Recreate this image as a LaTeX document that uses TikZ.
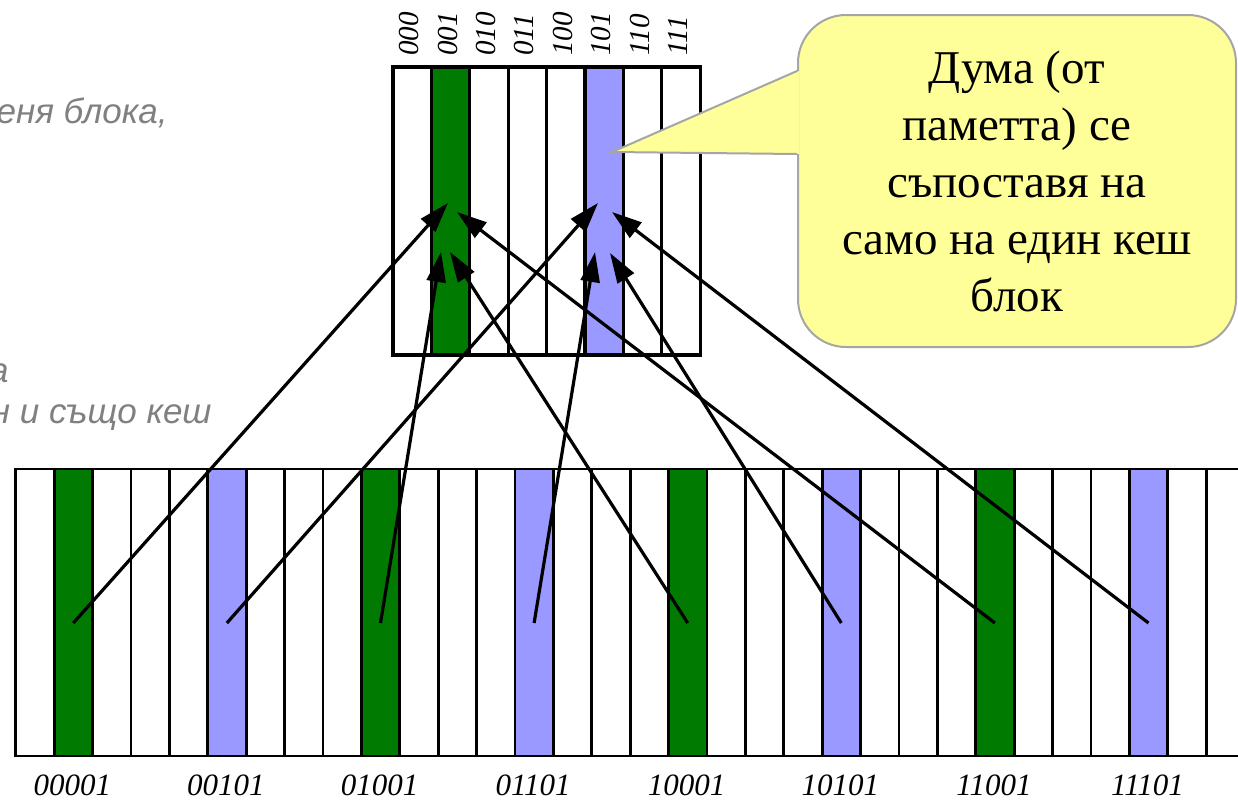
\documentclass[tikz,border=0pt]{standalone}
\usepackage{fontspec}
\setmainfont{Liberation Serif}
\newfontfamily\notefont{Liberation Serif}
\newfontfamily\slidefont{Liberation Sans}
\usepackage{graphicx}
\usepackage{tikz}
\usetikzlibrary{arrows.meta}
\usetikzlibrary{calc}

\definecolor{blkgreen}{RGB}{0,122,0}
\definecolor{blkblue}{RGB}{153,153,255}
\definecolor{notefill}{RGB}{255,255,153}
\definecolor{noteline}{RGB}{165,165,165}
\definecolor{oldtext}{RGB}{128,128,128}

\newcommand{\bitsfont}{\fontsize{14.5pt}{16pt}\selectfont\itshape}
\newcommand{\addrfont}{\fontsize{15.5pt}{18pt}\selectfont\itshape}

\tikzset{
        cell/.style={draw, line width=1.6pt, minimum width=19.2pt, minimum height=144pt, inner sep=0pt, outer sep=0pt},
        memcell/.style={draw, line width=1.4pt, minimum width=19.2pt, minimum height=143.5pt, inner sep=0pt, outer sep=0pt},
        bitslabel/.style={font=\bitsfont, anchor=south, inner sep=0pt},
        addr/.style={font=\addrfont, inner sep=0pt},
        oldline/.style={anchor=base east, text=oldtext, font=\slidefont\itshape\fontsize{17.5}{21}\selectfont, inner sep=0pt},
        map/.style={-{Triangle[length=15pt,width=9.5pt]}, line width=1.6pt},
        note/.style={draw=noteline, fill=notefill, line width=1pt, rounded corners=24pt, align=center,
                minimum width=219pt, minimum height=166pt, inner sep=0pt, font=\notefont\fontsize{23.5}{28.5}\selectfont},
}

\begin{document}
\begin{tikzpicture}[x=0.5pt, y=-0.5pt]
                \useasboundingbox (0,0) rectangle (1238,800);
                \clip (0,0) rectangle (1238,800);

                % text of the slide behind
                \node[oldline] (old1) at (168,123) {еня блока,};
                \node[oldline] (old2) at (9,382) {а};
                \node[oldline] (old3) at (212,423) {ин и също кеш};

                % cache
                \foreach \i/\col in {0/white, 1/blkgreen, 2/white, 3/white, 4/white, 5/blkblue, 6/white, 7/white}
                        \node[cell, fill=\col] (c\i) at ({412.2+38.4*\i}, 211) {};
                \foreach \i/\bb in {0/000, 1/001, 2/010, 3/011, 4/100, 5/101, 6/110, 7/111}
                        \node[bitslabel] (b\i) at ($(c\i.north)+(-3,-11)$) {\rotatebox{90}{\bb}};

                % memory
                \foreach \i in {0,...,31}{
                        \pgfmathtruncatemacro{\r}{mod(\i,8)}
                        \ifnum\r=1 \def\col{blkgreen}\else\ifnum\r=5 \def\col{blkblue}\else\def\col{white}\fi\fi
                        \node[memcell, fill=\col] (m\i) at ({34.9+38.4*\i}, 612.5) {};
                }
                \foreach \i/\a in {1/00001, 5/00101, 9/01001, 13/01101, 17/10001, 21/10101, 25/11001, 29/11101}{
                        \node[addr] (a\i) at ($(m\i.south)+(-1,29)$) {\a};
                        \coordinate (s\i) at ($(m\i.center)+(0,10.5)$);
                }

                % where the arrows land
                \coordinate (g1) at (448,203);
                \coordinate (g2) at (441,252);
                \coordinate (g3) at (450,252);
                \coordinate (g4) at (457,212);
                \coordinate (v1) at (598,203);
                \coordinate (v2) at (595,252);
                \coordinate (v3) at (610,253);
                \coordinate (v4) at (612,212);

                \foreach \i/\t in {1/g1, 5/v1, 9/g2, 13/v2, 17/g3, 21/v3, 25/g4, 29/v4}
                        \draw[map] (s\i) -- (\t);

                % callout
                \node[note] (note) at (1017,181) {Дума (от\\паметта) се\\съпоставя на\\само на един кеш\\блок};
                \coordinate (tip) at (612,152);
                \fill[notefill] (tip) -- ($(note.north west)+(2,57)$) -- ($(note.north west)+(2,140)$) -- cycle;
                \draw[noteline, line width=1pt] ($(note.north west)+(0,57)$) -- (tip) -- ($(note.north west)+(0,140)$);
        \end{tikzpicture}
\end{document}
